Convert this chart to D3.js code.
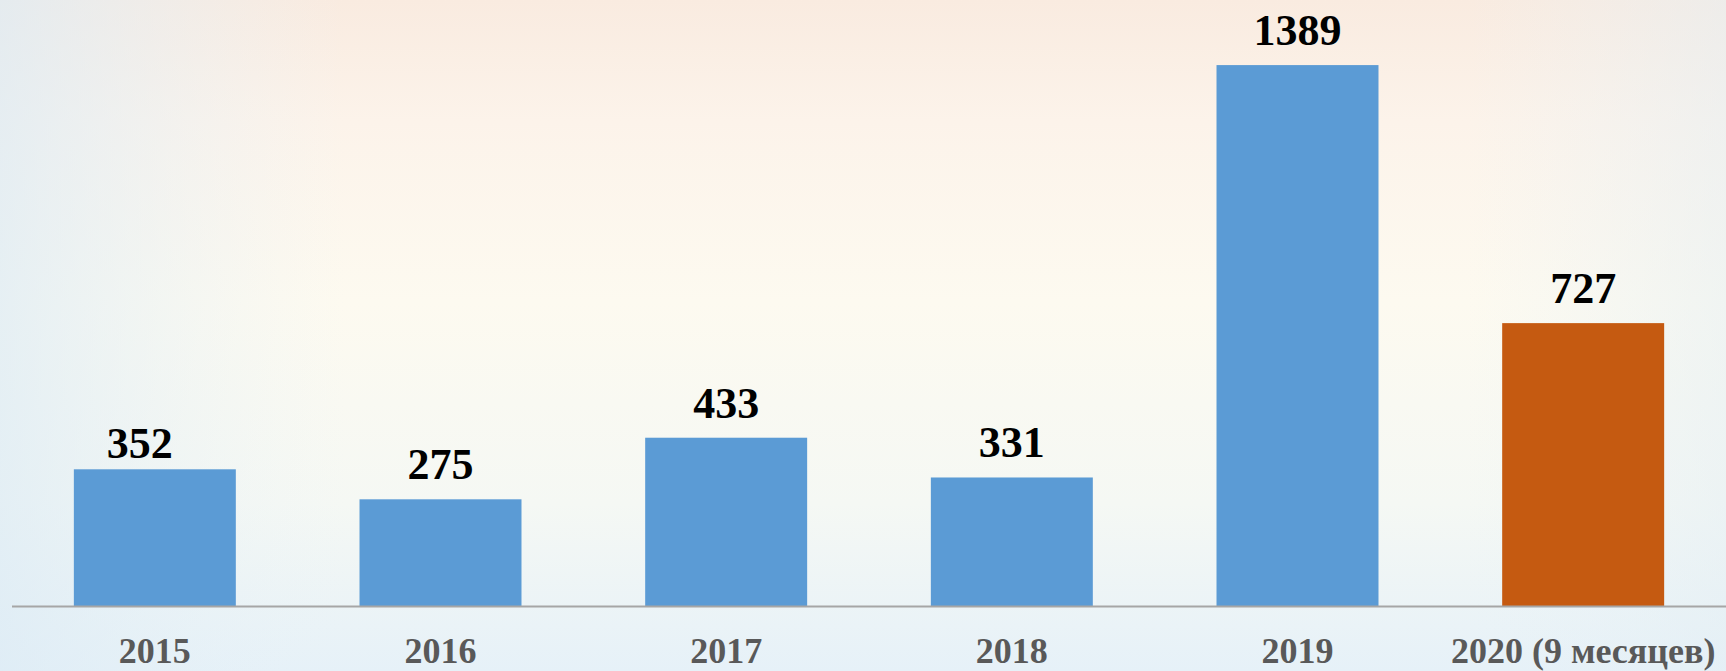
<!DOCTYPE html>
<html>
<head>
<meta charset="utf-8">
<script src="https://cdn.jsdelivr.net/npm/d3@7"></script>
<style>
  html, body { margin: 0; padding: 0; }
  body { width: 1726px; height: 671px; overflow: hidden; }
  svg { display: block; }
</style>
</head>
<body>
<svg id="chart" width="1726" height="671"></svg>
<script>
const categories = ["2015", "2016", "2017", "2018", "2019", "2020 (9 месяцев)"];
const values = [352, 275, 433, 331, 1389, 727];
const barColors = ["#5b9bd5", "#5b9bd5", "#5b9bd5", "#5b9bd5", "#5b9bd5", "#c55a11"];

const W = 1726, H = 671;
const svg = d3.select("#chart");
const defs = svg.append("defs");

// background gradients
const gv = defs.append("linearGradient").attr("id", "bgV").attr("x1", 0).attr("y1", 0).attr("x2", 0).attr("y2", 1);
gv.append("stop").attr("offset", "0%").attr("stop-color", "#f9ebe0");
gv.append("stop").attr("offset", "18%").attr("stop-color", "#fcf3ea");
gv.append("stop").attr("offset", "45%").attr("stop-color", "#fdfaf0");
gv.append("stop").attr("offset", "75%").attr("stop-color", "#f5f8f4");
gv.append("stop").attr("offset", "100%").attr("stop-color", "#e6f1f8");
const gh = defs.append("linearGradient").attr("id", "bgH").attr("x1", 0).attr("y1", 0).attr("x2", 1).attr("y2", 0);
gh.append("stop").attr("offset", "0%").attr("stop-color", "#dcebf5").attr("stop-opacity", 0.7);
gh.append("stop").attr("offset", "20%").attr("stop-color", "#e8f2f7").attr("stop-opacity", 0.0);
gh.append("stop").attr("offset", "85%").attr("stop-color", "#e8f2f7").attr("stop-opacity", 0.0);
gh.append("stop").attr("offset", "100%").attr("stop-color", "#e3eef4").attr("stop-opacity", 0.5);

svg.append("rect").attr("width", W).attr("height", H).attr("fill", "url(#bgV)");
svg.append("rect").attr("width", W).attr("height", H).attr("fill", "url(#bgH)");

const x = d3.scaleBand()
  .domain(categories)
  .range([12, 1726])
  .paddingInner(0.433)
  .paddingOuter(0.2165);

const y = d3.scaleLinear()
  .domain([0, 1400])
  .range([606.5, 60.8]);

const g = svg.append("g");

g.selectAll("rect.bar")
  .data(values)
  .enter().append("rect")
  .attr("class", "bar")
  .attr("x", (d, i) => x(categories[i]))
  .attr("width", x.bandwidth())
  .attr("y", d => y(d))
  .attr("height", d => y(0) - y(d))
  .attr("fill", (d, i) => barColors[i]);

// axis line
const axis = d3.axisBottom(x).tickSize(0).tickPadding(0).tickFormat("");
const ax = svg.append("g").attr("transform", `translate(0,${y(0)})`).call(axis);
ax.select(".domain").attr("stroke", "#a6a6a6").attr("stroke-width", 2)
  .attr("d", `M${x.range()[0]},0H${x.range()[1]}`);

// category labels
svg.selectAll("text.cat")
  .data(categories)
  .enter().append("text")
  .attr("class", "cat")
  .attr("x", d => x(d) + x.bandwidth() / 2)
  .attr("y", y(0) + 56)
  .attr("text-anchor", "middle")
  .attr("font-family", "'Liberation Serif', 'Times New Roman', serif")
  .attr("font-weight", "bold")
  .attr("font-size", 36)
  .attr("fill", "#595959")
  .text(d => d);

// value labels (first label was nudged in the original)
svg.selectAll("text.val")
  .data(values)
  .enter().append("text")
  .attr("class", "val")
  .attr("x", (d, i) => x(categories[i]) + x.bandwidth() / 2 + (i === 0 ? -15 : 0))
  .attr("y", (d, i) => y(d) - (i === 0 ? 11 : 20))
  .attr("text-anchor", "middle")
  .attr("font-family", "'Liberation Serif', 'Times New Roman', serif")
  .attr("font-weight", "bold")
  .attr("font-size", 44)
  .attr("fill", "#000000")
  .text(d => d);
</script>
</body>
</html>
